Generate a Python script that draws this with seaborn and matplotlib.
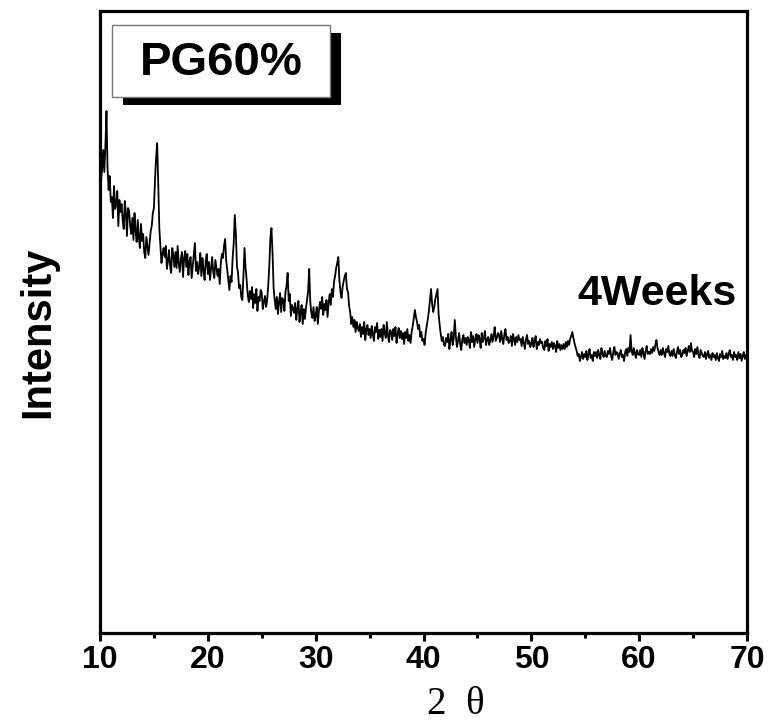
import numpy as np
import matplotlib
matplotlib.use('Agg')
import matplotlib.pyplot as plt
import matplotlib.patheffects as pe
from matplotlib.patches import Rectangle
from matplotlib.ticker import MultipleLocator
import seaborn as sns

# 2-theta grid, 0.1 deg step from 10 to 70
two_theta = np.round(np.arange(10.0, 70.001, 0.1), 1)

# intensity (a.u.), one row per degree
intensity = [
    480, 458, 470, 488, 466, 492, 527, 470, 448, 462,   # 10
    436, 441, 420, 452, 429, 433, 447, 412, 438, 426,   # 11
    434, 418, 409, 437, 425, 402, 430, 427, 412, 404,   # 12
    420, 398, 425, 407, 396, 418, 401, 390, 414, 397,   # 13
    404, 386, 380, 401, 392, 383, 395, 407, 412, 425,   # 14
    430, 458, 480, 495, 455, 410, 393, 375, 384, 390,   # 15
    381, 392, 369, 377, 388, 372, 365, 390, 383, 371,   # 16
    386, 370, 392, 375, 366, 379, 386, 361, 380, 387,   # 17
    371, 384, 363, 377, 381, 360, 372, 385, 395, 367,   # 18
    376, 364, 371, 385, 362, 380, 368, 358, 377, 384,   # 19
    364, 376, 358, 370, 381, 366, 360, 378, 370, 362,   # 20
    369, 354, 374, 384, 380, 392, 399, 378, 368, 358,   # 21
    348, 362, 356, 380, 395, 423, 404, 372, 365, 350,   # 22
    353, 341, 338, 362, 390, 370, 358, 343, 336, 347,   # 23
    339, 351, 330, 344, 335, 349, 327, 341, 337, 348,   # 24
    345, 329, 336, 342, 331, 338, 352, 372, 400, 410,   # 25
    385, 350, 338, 329, 341, 324, 336, 345, 326, 340,   # 26
    338, 327, 346, 352, 365, 337, 344, 322, 333, 330,   # 27
    325, 335, 318, 329, 337, 316, 326, 333, 314, 329,   # 28
    319, 330, 338, 347, 369, 336, 325, 320, 331, 317,   # 29
    322, 331, 314, 327, 336, 329, 341, 323, 334, 328,   # 30
    338, 321, 335, 344, 333, 349, 341, 356, 362, 370,   # 31
    375, 381, 358, 346, 340, 351, 357, 362, 365, 349,   # 32
    346, 332, 326, 314, 321, 311, 318, 306, 316, 310,   # 33
    307, 314, 301, 311, 304, 316, 298, 309, 313, 303,   # 34
    309, 300, 312, 304, 297, 311, 306, 315, 299, 308,   # 35
    301, 309, 297, 313, 305, 300, 316, 303, 296, 308,   # 36
    306, 298, 309, 302, 311, 295, 304, 310, 300, 307,   # 37
    299, 305, 294, 306, 300, 309, 297, 303, 295, 306,   # 38
    312, 320, 328, 321, 316, 309, 313, 301, 306, 297,   # 39
    299, 293, 305, 312, 319, 327, 338, 349, 334, 326,   # 40
    331, 339, 344, 349, 324, 313, 304, 297, 301, 293,   # 41
    292, 300, 296, 304, 289, 298, 306, 293, 299, 318,   # 42
    302, 291, 297, 305, 294, 288, 299, 303, 295, 300,   # 43
    293, 301, 298, 290, 306, 296, 302, 291, 299, 304,   # 44
    295, 303, 299, 290, 305, 296, 300, 307, 293, 298,   # 45
    301, 293, 298, 304, 296, 302, 311, 297, 300, 305,   # 46
    303, 296, 307, 299, 294, 304, 309, 298, 301, 295,   # 47
    297, 302, 292, 304, 299, 293, 301, 296, 303, 298,   # 48
    299, 292, 301, 295, 289, 298, 303, 294, 297, 291,   # 49
    294, 300, 291, 297, 302, 289, 296, 293, 299, 295,   # 50
    296, 290, 288, 297, 292, 299, 287, 294, 291, 296,   # 51
    289, 295, 292, 286, 297, 290, 294, 288, 293, 289,   # 52
    294, 289, 296, 291, 297, 293, 299, 302, 306, 300,   # 53
    295, 291, 287, 282, 284, 277, 281, 286, 279, 284,   # 54
    281, 287, 278, 284, 289, 280, 283, 277, 286, 282,   # 55
    286, 280, 288, 283, 279, 290, 284, 281, 287, 282,   # 56
    281, 287, 284, 290, 282, 278, 286, 291, 283, 286,   # 57
    285, 279, 284, 288, 281, 283, 277, 286, 289, 282,   # 58
    290, 286, 303, 287, 283, 290, 285, 280, 288, 284,   # 59
    283, 288, 281, 290, 285, 279, 287, 292, 284, 286,   # 60
    284, 289, 285, 291, 287, 293, 298, 290, 286, 283,   # 61
    288, 283, 290, 285, 281, 289, 286, 292, 284, 282,   # 62
    287, 282, 289, 283, 280, 286, 291, 284, 288, 281,   # 63
    283, 288, 285, 290, 282, 287, 292, 286, 295, 287,   # 64
    286, 281, 289, 284, 291, 283, 280, 288, 285, 282,   # 65
    281, 286, 279, 284, 287, 280, 283, 278, 285, 281,   # 66
    283, 278, 285, 280, 277, 284, 281, 287, 279, 282,   # 67
    280, 285, 279, 284, 288, 281, 283, 278, 286, 281,   # 68
    283, 278, 286, 280, 284, 277, 282, 286, 279, 283,   # 69
    282,                                                # 70
]

x_ticks = [10, 20, 30, 40, 50, 60, 70]
sample_label = 'PG60%'
time_label = '4Weeks'

sns.set_style('ticks')
plt.rcParams['font.family'] = ['Liberation Sans', 'DejaVu Sans']
plt.rcParams['font.weight'] = 'bold'
plt.rcParams['text.color'] = 'black'
plt.rcParams['axes.labelcolor'] = 'black'
plt.rcParams['xtick.color'] = 'black'

fig = plt.figure(figsize=(7.71, 7.22), dpi=100)
ax = fig.add_axes([100 / 771, 1 - 633 / 722, 647 / 771, 622 / 722])

sns.lineplot(x=two_theta, y=intensity, ax=ax, color='black', linewidth=1.3)

ax.set_xlim(10, 70)
ax.set_ylim(5, 627)
ax.set_xticks(x_ticks)
ax.xaxis.set_minor_locator(MultipleLocator(5))
ax.set_yticks([])
ax.tick_params(axis='x', which='major', direction='out', length=6, width=2.2,
               labelsize=23, pad=3, colors='black')
ax.tick_params(axis='x', which='minor', direction='out', length=3.5, width=2.2)
for lab in ax.get_xticklabels():
    lab.set_fontweight('bold')
for sp in ax.spines.values():
    sp.set_linewidth(2.3)
    sp.set_color('black')

ax.set_xlabel('2  θ', family=['Liberation Serif', 'DejaVu Serif'],
              fontweight='normal', fontsize=28, va='center')
ax.xaxis.set_label_coords((456 - 100) / 647, (633 - 705) / 622)
ax.set_ylabel('Intensity', fontweight='bold', fontsize=30, va='center')
ax.yaxis.set_label_coords((38 - 100) / 647, (633 - 332) / 622)

# label box with a solid black drop shadow
box = Rectangle(((112 - 100) / 647, (633 - 97) / 622), 218 / 647, 72 / 622,
                transform=ax.transAxes, facecolor='white', edgecolor='#777777',
                linewidth=1.0, zorder=5)
box.set_path_effects([pe.SimplePatchShadow(offset=(8, -6), shadow_rgbFace='black', alpha=1.0),
                      pe.Normal()])
ax.add_patch(box)
ax.text((221 - 100) / 647, (633 - 75) / 622, sample_label, transform=ax.transAxes,
        ha='center', va='baseline', fontsize=34, fontweight='bold', zorder=6)

ax.text((737 - 100) / 647, (633 - 305) / 622, time_label, transform=ax.transAxes,
        ha='right', va='baseline', fontsize=31, fontweight='bold')

fig.savefig('out.png', dpi=100, facecolor='white')
plt.close(fig)
